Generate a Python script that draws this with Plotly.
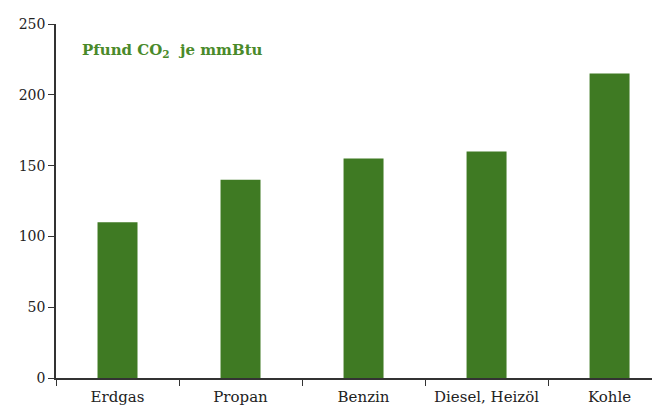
import plotly.graph_objects as go

categories = ["Erdgas", "Propan", "Benzin", "Diesel, Heizöl", "Kohle"]
values = [110, 140, 155, 160, 215]
y_ticks = [0, 50, 100, 150, 200, 250]

bar_color = "#3f7a23"
font_family = "DejaVu Serif, Liberation Serif, serif"

fig = go.Figure(go.Bar(x=categories, y=values, marker_color=bar_color, marker_line_width=0))

# page body has an 8px offset; margins compensate so the plot sits at 56..660 x, 17..378 y
fig.update_layout(
    width=660, height=406,
    margin=dict(l=48, r=8, t=9, b=36),
    paper_bgcolor="white", plot_bgcolor="white",
    bargap=0.675,
    showlegend=False,
    font=dict(family=font_family, size=14, color="#222"),
    annotations=[dict(
        text="<b>Pfund CO<sub>2</sub>  je mmBtu</b>",
        x=(80 - 56) / 604, y=(378 - 44) / 361, xref="paper", yref="paper",
        xanchor="left", yanchor="middle",
        showarrow=False, font=dict(family=font_family, size=15, color="#4a8a2a"),
    )],
)

fig.update_xaxes(
    type="category", range=[-0.5, 4.41],
    showline=True, linecolor="#333", linewidth=1.5,
    ticks="outside", tickson="boundaries", ticklen=6, tickcolor="#333",
    showgrid=False, tickfont=dict(size=15), ticklabelstandoff=4,
)
fig.update_yaxes(
    range=[0, 250], tickvals=y_ticks,
    showline=True, linecolor="#333", linewidth=1.5,
    ticks="outside", ticklen=6, tickcolor="#333",
    showgrid=False, zeroline=False, tickfont=dict(size=14),
)

fig.write_html("out.html")
